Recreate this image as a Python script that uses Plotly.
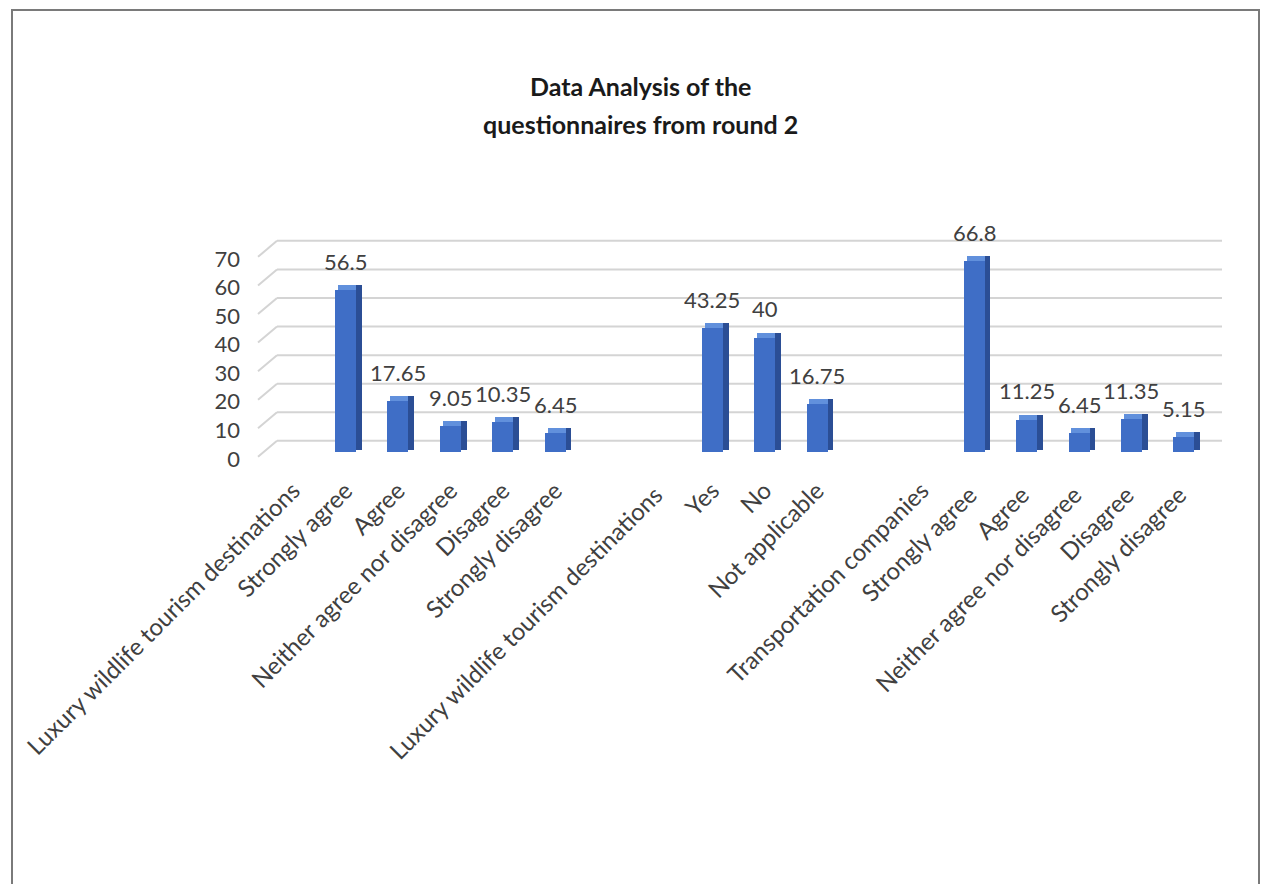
import plotly.graph_objects as go

# ---- data ----
categories = [
    "Luxury wildlife tourism destinations", "Strongly agree", "Agree",
    "Neither agree nor disagree", "Disagree", "Strongly disagree", " ",
    "Luxury wildlife tourism destinations ", "Yes", "No", "Not applicable", "  ",
    "Transportation companies", "Strongly agree ", "Agree ",
    "Neither agree nor disagree ", "Disagree ", "Strongly disagree ",
]
values = [None, 56.5, 17.65, 9.05, 10.35, 6.45, None,
          None, 43.25, 40, 16.75, None,
          None, 66.8, 11.25, 6.45, 11.35, 5.15]
y_ticks = [0, 10, 20, 30, 40, 50, 60, 70]
title_lines = ["Data Analysis of the", "questionnaires from round 2"]

# ---- geometry (pixels) ----
W, H = 1262, 884
ML, MR, MT, MB = 267, 52, 239, 425
PW, PH = W - ML - MR, H - MT - MB
YR = [-2.5, 74.5]
DEPTH = 1.75            # 3D depth in value units (top face)
BACK = 3.85             # back wall offset in value units
FRONT = -1.75           # front edge offset in value units
FONT = "Lato, Carlito, Calibri, sans-serif"
TXT = "#404040"


def xp(px):
    return (px - ML) / PW


def yp(py):
    return (H - MB - py) / PH


front_w = 0.40
side_w = 0.11

fig = go.Figure()

# top faces
fig.add_trace(go.Bar(
    x=categories, y=[DEPTH if v is not None else None for v in values],
    base=[v if v is not None else 0 for v in values],
    width=front_w, offset=-front_w / 2 + side_w / 2,
    marker=dict(color="#6190dc", line=dict(width=0)), hoverinfo="skip",
    showlegend=False))
# side faces
side_base = 0.8
fig.add_trace(go.Bar(
    x=categories, y=[v + DEPTH - side_base if v is not None else None for v in values],
    base=side_base, width=side_w, offset=front_w / 2,
    marker=dict(color="#2b4e95", line=dict(width=0)), hoverinfo="skip",
    showlegend=False))
# front faces
fig.add_trace(go.Bar(
    x=categories, y=values, base=0, width=front_w, offset=-front_w / 2,
    marker=dict(color="#3f6ec6", line=dict(width=0)), showlegend=False))

# data labels
annotations = []
for c, v in zip(categories, values):
    if v is None:
        continue
    annotations.append(dict(
        x=c, y=v, xref="x", yref="y", text=f"{v:g}", showarrow=False,
        yshift=29, font=dict(family=FONT, size=22, color=TXT)))

# title (two lines)
for i, line in enumerate(title_lines):
    annotations.append(dict(
        x=xp(640), y=yp(86 + 38 * i), xref="paper", yref="paper", text=f"<b>{line}</b>",
        showarrow=False, xanchor="center", yanchor="middle",
        font=dict(family=FONT, size=25, color="#1a1a1a")))

# gridlines (back wall + slanted side)
shapes = []
x_front, x_back, x_right = xp(258), xp(277), xp(1222)
for t in y_ticks:
    shapes.append(dict(type="line", xref="paper", yref="y",
                       x0=x_front, y0=t + FRONT, x1=x_back, y1=t + BACK,
                       line=dict(color="#d4d4d4", width=2), layer="below"))
    shapes.append(dict(type="line", xref="paper", yref="y",
                       x0=x_back, y0=t + BACK, x1=x_right, y1=t + BACK,
                       line=dict(color="#d4d4d4", width=2), layer="below"))

# outer border
shapes.append(dict(type="rect", xref="paper", yref="paper",
                   x0=xp(12), y0=yp(900), x1=xp(1259), y1=yp(10),
                   line=dict(color="#7a7a7a", width=2), layer="below"))

fig.update_layout(
    width=W, height=H,
    margin=dict(l=ML, r=MR, t=MT, b=MB, autoexpand=False),
    paper_bgcolor="white", plot_bgcolor="rgba(0,0,0,0)",
    barmode="overlay", bargap=0,
    showlegend=False,
    annotations=annotations, shapes=shapes,
    xaxis=dict(type="category", categoryorder="array", categoryarray=categories,
               range=[-0.5, len(categories) - 0.5],
               tickangle=-45, ticks="", showgrid=False, zeroline=False, showline=False,
               ticklabelstandoff=12,
               tickfont=dict(family=FONT, size=24, color=TXT)),
    yaxis=dict(range=YR, tickvals=y_ticks, ticktext=[str(t) for t in y_ticks],
               showgrid=False, zeroline=False, showline=False, ticks="",
               ticklabelstandoff=26, ticklabelshift=7,
               tickfont=dict(family=FONT, size=22, color=TXT)),
)

fig.write_html("out.html")
